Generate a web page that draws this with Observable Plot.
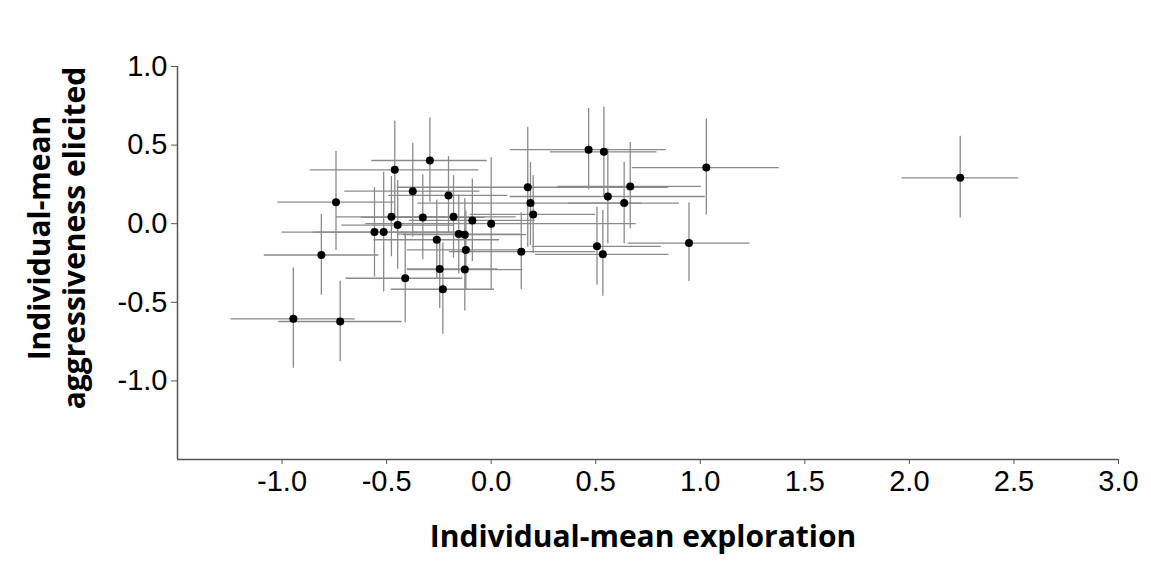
<!DOCTYPE html>
<html>
<head>
<meta charset="utf-8">
<script src="https://cdn.jsdelivr.net/npm/d3@7"></script>
<script src="https://cdn.jsdelivr.net/npm/@observablehq/plot@0.6"></script>
<style>
  html, body { margin: 0; padding: 0; background: #fff; }
</style>
</head>
<body>
<div id="chart"></div>
<script>
// Individual means (exploration, aggressiveness elicited) with error bars
const xMean = [-0.946, -0.722, -0.812, -0.742, -0.558, -0.514, -0.477, -0.461, -0.447, -0.411,
               -0.375, -0.327, -0.293, -0.260, -0.246, -0.231, -0.204, -0.180, -0.155, -0.126,
               -0.121, -0.126, -0.090, 0.000, 0.144, 0.175, 0.188, 0.201, 0.466, 0.539,
               0.506, 0.534, 0.558, 0.636, 0.665, 0.946, 1.029, 2.243];
const yMean = [-0.605, -0.622, -0.199, 0.137, -0.053, -0.053, 0.044, 0.343, -0.009, -0.347,
               0.207, 0.040, 0.402, -0.102, -0.288, -0.417, 0.180, 0.044, -0.066, -0.070,
               -0.167, -0.292, 0.021, 0.000, -0.178, 0.232, 0.131, 0.059, 0.471, 0.457,
               -0.144, -0.195, 0.173, 0.131, 0.237, -0.123, 0.357, 0.292];
const xLow  = [-1.244, -1.016, -1.085, -1.020, -1.000, -0.850, -0.740, -0.865, -0.714, -0.694,
               -0.700, -0.620, -0.571, -0.560, -0.402, -0.478, -0.490, -0.480, -0.450, -0.420,
               -0.400, -0.400, -0.390, -0.600, -0.200, -0.450, -0.350, -0.100, 0.091, 0.283,
               0.196, 0.212, 0.091, 0.370, 0.319, 0.655, 0.675, 1.965];
const xHigh = [-0.651, -0.426, -0.537, -0.463, -0.120, -0.180, -0.210, -0.059, -0.180, -0.135,
               -0.054, -0.030, -0.019, 0.040, 0.032, 0.016, 0.080, 0.120, 0.140, 0.170,
               0.160, 0.152, 0.210, 0.694, 0.500, 0.850, 0.720, 0.500, 0.837, 0.793,
               0.813, 0.850, 1.024, 0.900, 1.006, 1.238, 1.378, 2.523];
const yLow  = [-0.920, -0.878, -0.455, -0.170, -0.339, -0.434, -0.210, 0.035, -0.290, -0.630,
               -0.085, -0.230, 0.137, -0.350, -0.540, -0.704, -0.062, -0.220, -0.320, -0.300,
               -0.420, -0.555, -0.240, -0.420, -0.420, -0.150, -0.138, -0.190, 0.216, 0.173,
               -0.390, -0.461, -0.127, -0.127, -0.032, -0.368, 0.053, 0.036];
const yHigh = [-0.282, -0.366, 0.059, 0.459, 0.228, 0.327, 0.300, 0.651, 0.275, -0.060,
               0.511, 0.311, 0.673, 0.150, -0.117, -0.123, 0.427, 0.306, 0.184, 0.160,
               0.080, -0.030, 0.285, 0.420, 0.070, 0.613, 0.390, 0.306, 0.733, 0.740,
               0.105, 0.084, 0.476, 0.391, 0.516, 0.131, 0.666, 0.556];

const xTicks = [-1.0, -0.5, 0.0, 0.5, 1.0, 1.5, 2.0, 2.5, 3.0];
const yTicks = [-1.0, -0.5, 0.0, 0.5, 1.0];
const xTitle = "Individual-mean exploration";
const yTitleLines = ["Individual-mean", "aggressiveness elicited"];

const data = xMean.map((x, i) => ({
  x, y: yMean[i], xlo: xLow[i], xhi: xHigh[i], ylo: yLow[i], yhi: yHigh[i]
}));

const fmt = d => d.toFixed(1);
const titleFont = "'Open Sans', Lato, sans-serif";

const chart = Plot.plot({
  width: 1151,
  height: 565,
  marginLeft: 177,
  marginRight: 33,
  marginTop: 66,
  marginBottom: 106,
  style: { fontFamily: "'Liberation Sans', Arial, sans-serif", fontSize: "29px", background: "#fff", color: "#000" },
  x: { domain: [-1.5, 3.0], axis: null, label: null },
  y: { domain: [-1.5, 1.0], axis: null, label: null },
  marks: [
    Plot.ruleY(data, { y: "y", x1: "xlo", x2: "xhi", stroke: "#8a8a8a", strokeWidth: 1.3 }),
    Plot.ruleX(data, { x: "x", y1: "ylo", y2: "yhi", stroke: "#8a8a8a", strokeWidth: 1.3 }),
    Plot.dot(data, { x: "x", y: "y", r: 4, fill: "#000", stroke: "none" }),
    Plot.ruleX([-1.5], { stroke: "#555", strokeWidth: 1.5 }),
    Plot.ruleY([-1.5], { stroke: "#555", strokeWidth: 1.5 }),
    Plot.axisX({ ticks: xTicks, tickFormat: fmt, tickSize: 5, tickPadding: 6, stroke: "#555", fill: "#000", fontSize: 29, label: null }),
    Plot.axisY({ ticks: yTicks, tickFormat: fmt, tickSize: 6, tickPadding: 4, stroke: "#555", fill: "#000", fontSize: 29, label: null }),
    Plot.text([xTitle], { text: d => d, frameAnchor: "bottom", textAnchor: "middle", lineAnchor: "middle", dy: 78, dx: -5, fontSize: 30, fontWeight: "bold", fontFamily: titleFont, fill: "#000" }),
    Plot.text([yTitleLines[0]], { text: d => d, frameAnchor: "left", textAnchor: "middle", lineAnchor: "middle", dx: -137, dy: -25, rotate: -90, fontSize: 30, fontWeight: "bold", fontFamily: titleFont, fill: "#000" }),
    Plot.text([yTitleLines[1]], { text: d => d, frameAnchor: "left", textAnchor: "middle", lineAnchor: "middle", dx: -102, dy: -25, rotate: -90, fontSize: 30, fontWeight: "bold", fontFamily: titleFont, fill: "#000" })
  ]
});
document.getElementById("chart").appendChild(chart);
</script>
</body>
</html>
